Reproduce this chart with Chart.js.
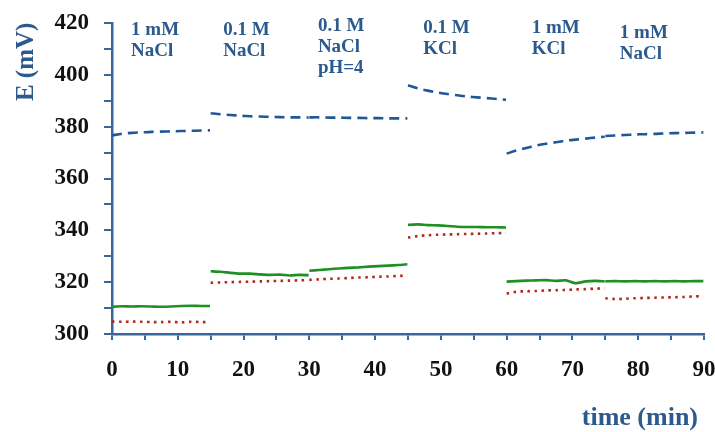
<!DOCTYPE html>
<html>
<head>
<meta charset="utf-8">
<script src="https://cdn.jsdelivr.net/npm/chart.js@4/dist/chart.umd.min.js"></script>
<style>
  html, body { margin: 0; padding: 0; background: #ffffff; }
  #wrap { width: 715px; height: 432px; }
</style>
</head>
<body>
<div id="wrap"><canvas id="c" width="715" height="432"></canvas></div>
<script>
// ---- data ----
const segmentStarts = [0, 15, 30, 45, 60, 75];          // minutes
const sampleOffsets = [0, 1.5, 3, 4.5, 6, 7.5, 9, 10.5, 12, 13.5, 14.9]; // minutes within a segment

const blueSeries = [
  [376.6, 377.3, 377.6, 377.8, 378.0, 378.1, 378.2, 378.3, 378.4, 378.5, 378.6],
  [385.2, 384.8, 384.5, 384.2, 384.0, 383.9, 383.8, 383.7, 383.6, 383.6, 383.5],
  [383.6, 383.6, 383.5, 383.5, 383.4, 383.4, 383.3, 383.3, 383.2, 383.2, 383.2],
  [396.0, 394.8, 393.9, 393.2, 392.6, 392.1, 391.6, 391.3, 391.0, 390.7, 390.4],
  [369.6, 370.8, 371.8, 372.7, 373.4, 374.0, 374.6, 375.0, 375.4, 375.8, 376.1],
  [376.4, 376.6, 376.8, 377.0, 377.1, 377.2, 377.4, 377.5, 377.6, 377.7, 377.8]
];
const greenSeries = [
  [310.5, 310.7, 310.6, 310.7, 310.6, 310.5, 310.6, 310.8, 310.9, 310.8, 310.8],
  [324.2, 324.0, 323.6, 323.3, 323.3, 323.0, 322.8, 322.9, 322.6, 322.8, 322.7],
  [324.4, 324.7, 325.0, 325.3, 325.5, 325.7, 326.0, 326.2, 326.4, 326.6, 326.9],
  [342.1, 342.3, 342.0, 341.9, 341.7, 341.4, 341.3, 341.3, 341.2, 341.2, 341.1],
  [320.2, 320.4, 320.6, 320.7, 320.8, 320.5, 320.7, 319.6, 320.3, 320.5, 320.3],
  [320.3, 320.4, 320.3, 320.4, 320.3, 320.4, 320.3, 320.4, 320.3, 320.4, 320.4]
];
const redSeries = [
  [304.8, 304.7, 304.8, 304.7, 304.6, 304.6, 304.7, 304.5, 304.7, 304.6, 304.6],
  [319.8, 319.9, 320.0, 320.1, 320.2, 320.3, 320.4, 320.5, 320.6, 320.7, 320.8],
  [320.9, 321.1, 321.3, 321.4, 321.6, 321.8, 321.9, 322.1, 322.2, 322.4, 322.5],
  [337.2, 337.8, 338.1, 338.3, 338.4, 338.5, 338.6, 338.7, 338.8, 338.9, 339.0],
  [315.6, 316.3, 316.5, 316.6, 316.8, 316.9, 317.0, 317.2, 317.3, 317.5, 317.6],
  [313.8, 313.5, 313.6, 313.8, 313.9, 314.0, 314.1, 314.2, 314.3, 314.5, 314.6]
];

const conditionLabels = [
  ["1 mM", "NaCl"],
  ["0.1 M", "NaCl"],
  ["0.1 M", "NaCl", "pH=4"],
  ["0.1 M", "KCl"],
  ["1 mM", "KCl"],
  ["1 mM", "NaCl"]
];
const conditionLabelX = [2.9, 16.9, 31.3, 47.3, 63.8, 77.2];      // minutes
const conditionLabelY = [415.4, 415.4, 416.9, 416.1, 416.1, 414.2]; // mV (first baseline)

const yTickValues = [300, 320, 340, 360, 380, 400, 420];
const xTickValues = [0, 10, 20, 30, 40, 50, 60, 70, 80, 90];
const yTitle = "E (mV)";
const xTitle = "time (min)";

// ---- build point tables (segments separated by gaps) ----
function buildPoints(series) {
  const pts = [];
  series.forEach((seg, s) => {
    seg.forEach((v, i) => pts.push({ x: segmentStarts[s] + sampleOffsets[i], y: v }));
    pts.push({ x: segmentStarts[s] + 14.95, y: null });
  });
  return pts;
}

const AXIS = '#3a66a0';
const TEXT_BLUE = '#2c5a8c';
const SERIF = '"Liberation Serif", "DejaVu Serif", serif';

const textPlugin = {
  id: 'texts',
  afterDraw(chart) {
    const ctx = chart.ctx;
    const xs = chart.scales.x, ys = chart.scales.y;
    ctx.save();
    ctx.fillStyle = TEXT_BLUE;
    ctx.font = 'bold 19px ' + SERIF;
    ctx.textAlign = 'left';
    ctx.textBaseline = 'alphabetic';
    conditionLabels.forEach((lines, i) => {
      const px = xs.getPixelForValue(conditionLabelX[i]);
      const py = ys.getPixelForValue(conditionLabelY[i]);
      lines.forEach((t, j) => ctx.fillText(t, px, py + j * 21));
    });
    // axis titles
    ctx.fillStyle = TEXT_BLUE;
    ctx.font = 'bold 25px ' + SERIF;
    ctx.save();
    ctx.translate(33, ys.getPixelForValue(405));
    ctx.rotate(-Math.PI / 2);
    ctx.textAlign = 'center';
    ctx.fillText(yTitle, 0, 0);
    ctx.restore();
    ctx.font = 'bold 26px ' + SERIF;
    ctx.textAlign = 'right';
    ctx.fillText(xTitle, xs.getPixelForValue(90) - 6, 425);
    ctx.restore();
  }
};

new Chart(document.getElementById('c'), {
  type: 'line',
  data: {
    datasets: [
      { label: 'blue', data: buildPoints(blueSeries), borderColor: '#1f5899', borderWidth: 2.6,
        borderDash: [10, 6], pointRadius: 0, tension: 0.3, spanGaps: false },
      { label: 'green', data: buildPoints(greenSeries), borderColor: '#1f9124', borderWidth: 2.6,
        pointRadius: 0, tension: 0.2, spanGaps: false },
      { label: 'red', data: buildPoints(redSeries), borderColor: '#b0281e', borderWidth: 2.6,
        borderDash: [2.5, 4.5], pointRadius: 0, tension: 0.3, spanGaps: false }
    ]
  },
  options: {
    responsive: false,
    animation: false,
    layout: { padding: { top: 23, right: 11, left: 0, bottom: 0 } },
    plugins: { legend: { display: false }, tooltip: { enabled: false } },
    scales: {
      x: {
        type: 'linear', min: 0, max: 90,
        afterFit(s) { s.height = 98; s.paddingLeft = 0; s.paddingRight = 0; },
        border: { color: AXIS, width: 2.5 },
        grid: { drawOnChartArea: false, drawTicks: true, tickLength: 6, color: AXIS, lineWidth: 2 },
        ticks: {
          stepSize: 5, autoSkip: false, maxRotation: 0, padding: 16, color: '#111',
          font: { family: SERIF, size: 23, weight: 'bold' },
          callback: v => xTickValues.includes(v) ? String(v) : ''
        }
      },
      y: {
        min: 300, max: 420,
        afterFit(s) { s.width = 112; s.paddingTop = 0; s.paddingBottom = 0; },
        border: { color: AXIS, width: 2.5 },
        grid: { drawOnChartArea: false, drawTicks: true, tickLength: 8, color: AXIS, lineWidth: 2 },
        ticks: {
          stepSize: 10, autoSkip: false, padding: 15, color: '#111',
          font: { family: SERIF, size: 23, weight: 'bold' },
          callback: v => yTickValues.includes(v) ? String(v) : ''
        }
      }
    }
  },
  plugins: [textPlugin]
});
</script>
</body>
</html>
